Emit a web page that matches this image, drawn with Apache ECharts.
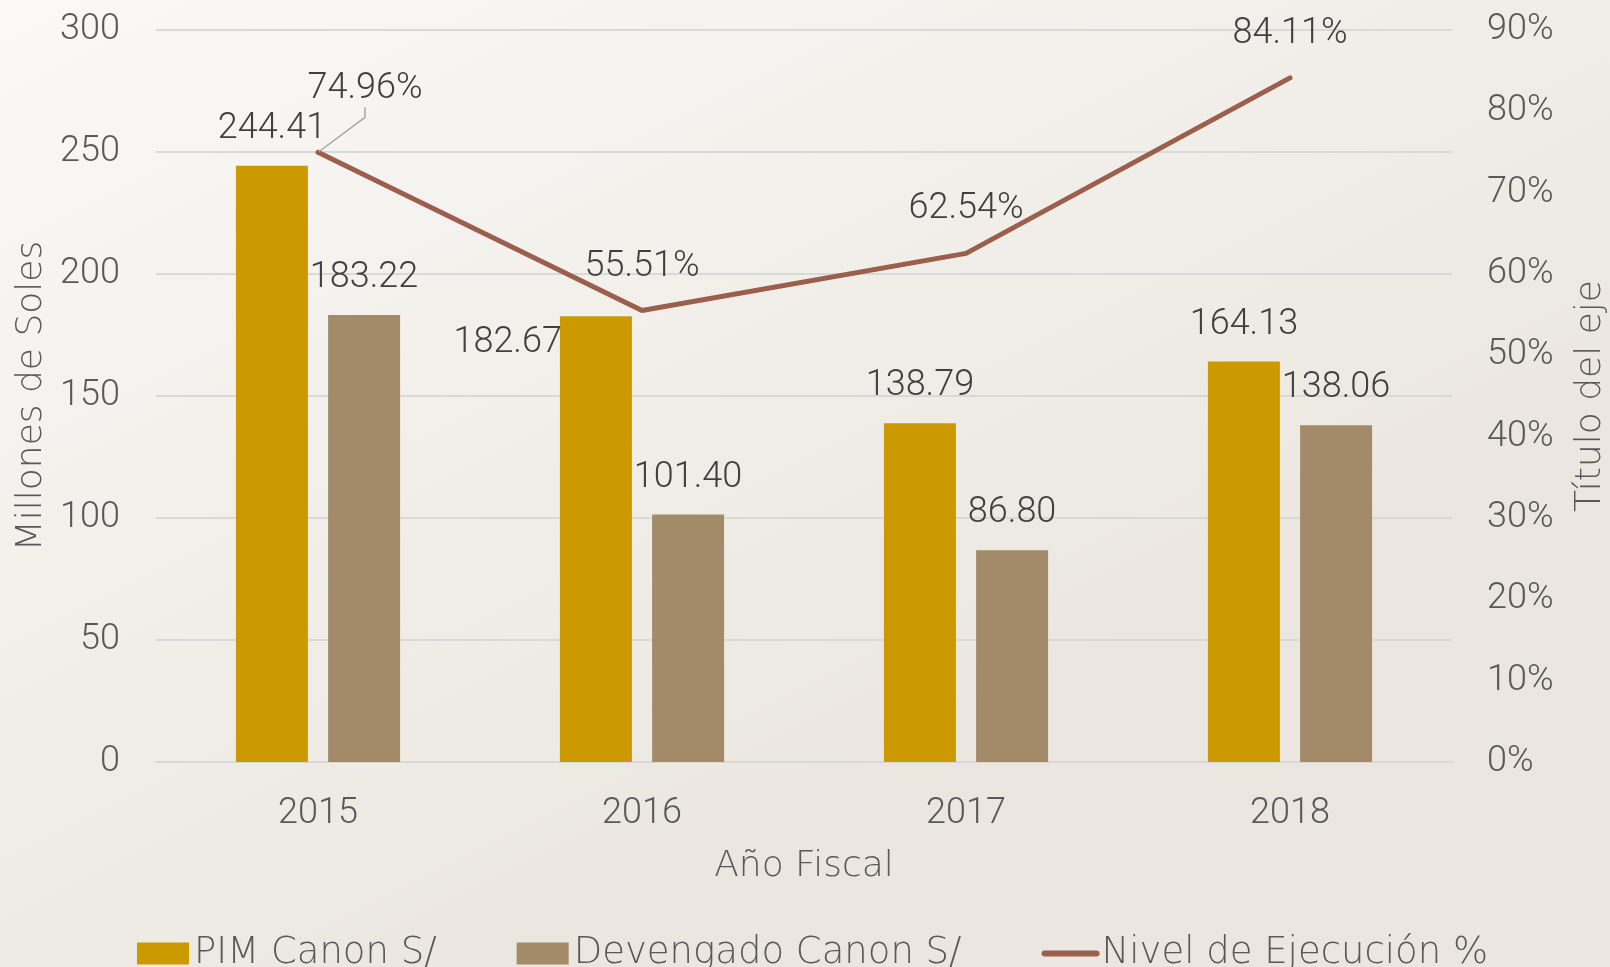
<!DOCTYPE html>
<html>
<head>
<meta charset="utf-8">
<title>Canon</title>
<script src="https://cdn.jsdelivr.net/npm/echarts@6/dist/echarts.min.js"></script>
<style>
  html, body { margin: 0; padding: 0; background: #f3f1ec; }
  #chart { width: 1610px; height: 967px; }
</style>
</head>
<body>
<div id="chart"></div>
<script>
// datos del grafico
var years = ["2015", "2016", "2017", "2018"];
var pimCanon = [244.41, 182.67, 138.79, 164.13];
var devengadoCanon = [183.22, 101.40, 86.80, 138.06];
var nivelEjecucion = [74.96, 55.51, 62.54, 84.11];

var numFont = "Roboto";
var txtFont = "DejaVu Sans";
var axisGray = "#595959";
var labelGray = "#404040";
var lineColor = "#9c5f4b";

var chart = echarts.init(document.getElementById("chart"));

var option = {
  backgroundColor: {
    type: "linear", x: 0, y: 0, x2: 0.3, y2: 1,
    colorStops: [
      { offset: 0, color: "#faf9f7" },
      { offset: 1, color: "#ebe7e0" }
    ]
  },
  textStyle: { fontFamily: numFont, fontWeight: 300 },
  grid: { left: 156, right: 158, top: 30, bottom: 205, outerBoundsMode: "none" },
  legend: {
    left: 132,
    top: 930,
    itemWidth: 52,
    itemHeight: 22,
    itemGap: 80,
    textStyle: { fontSize: 37, color: axisGray, fontFamily: txtFont },
    data: [
      { name: "PIM Canon S/", icon: "rect" },
      { name: "Devengado Canon S/", icon: "rect" },
      { name: "Nivel de Ejecución %", itemStyle: { opacity: 0 }, lineStyle: { width: 6, cap: "round" } }
    ]
  },
  xAxis: {
    type: "category",
    data: years,
    name: "Año Fiscal",
    nameLocation: "middle",
    nameGap: 87,
    nameTextStyle: { fontSize: 36, color: axisGray, lineHeight: 36, fontFamily: txtFont },
    axisLine: { lineStyle: { color: "#d9d9d9", width: 2 } },
    axisTick: { show: false },
    axisLabel: { fontSize: 36, color: axisGray, margin: 34, lineHeight: 36 }
  },
  yAxis: [
    {
      type: "value",
      min: 0, max: 300, interval: 50,
      name: "Millones de Soles",
      nameLocation: "middle",
      nameGap: 105,
      nameTextStyle: { fontSize: 36, color: axisGray, fontFamily: txtFont },
      axisLabel: { fontSize: 36, color: axisGray, margin: 36 },
      splitLine: { lineStyle: { color: "#d9d9d9", width: 2 } },
      axisLine: { show: false },
      axisTick: { show: false }
    },
    {
      type: "value",
      min: 0, max: 90, interval: 10,
      name: "Título del eje",
      nameLocation: "middle",
      nameGap: 121,
      nameTextStyle: { fontSize: 36, color: axisGray, fontFamily: txtFont },
      axisLabel: { fontSize: 36, color: axisGray, margin: 35, formatter: "{value}%" },
      splitLine: { show: false },
      axisLine: { show: false },
      axisTick: { show: false }
    }
  ],
  series: [
    {
      name: "PIM Canon S/",
      type: "bar",
      barWidth: 72,
      barGap: "28%",
      itemStyle: { color: "#cc9900" },
      label: {
        show: true, position: "top", distance: 19,
        fontSize: 36, color: labelGray,
        formatter: function (p) { return p.value.toFixed(2); }
      },
      labelLayout: function (p) {
        // 182.67 va a la izquierda de la barra
        if (p.dataIndex === 1) {
          return { x: p.rect.x + 2, y: p.rect.y + 27, align: "right", verticalAlign: "middle" };
        }
      },
      data: pimCanon
    },
    {
      name: "Devengado Canon S/",
      type: "bar",
      barWidth: 72,
      itemStyle: { color: "#a38b69" },
      label: {
        show: true, position: "top", distance: 19,
        fontSize: 36, color: labelGray,
        formatter: function (p) { return p.value.toFixed(2); }
      },
      data: devengadoCanon
    },
    {
      name: "Nivel de Ejecución %",
      type: "line",
      yAxisIndex: 1,
      symbol: "circle",
      symbolSize: 2,
      lineStyle: { color: lineColor, width: 5, cap: "round" },
      itemStyle: { color: lineColor },
      label: {
        show: true, position: "top", distance: 25,
        fontSize: 36, color: labelGray,
        formatter: function (p) { return p.value.toFixed(2) + "%"; }
      },
      labelLine: {
        show: false,
        length2: 10,
        lineStyle: { color: "#a6a6a6", width: 1.5 }
      },
      labelLayout: function (p) {
        // la etiqueta de 2015 se desplaza con linea guia
        if (p.dataIndex === 0) {
          return { dx: 47, dy: -19 };
        }
      },
      z: 5,
      data: nivelEjecucion.map(function (v, i) {
        return i === 0 ? { value: v, labelLine: { show: true } } : v;
      })
    }
  ]
};

option && chart.setOption(option);
</script>
</body>
</html>
